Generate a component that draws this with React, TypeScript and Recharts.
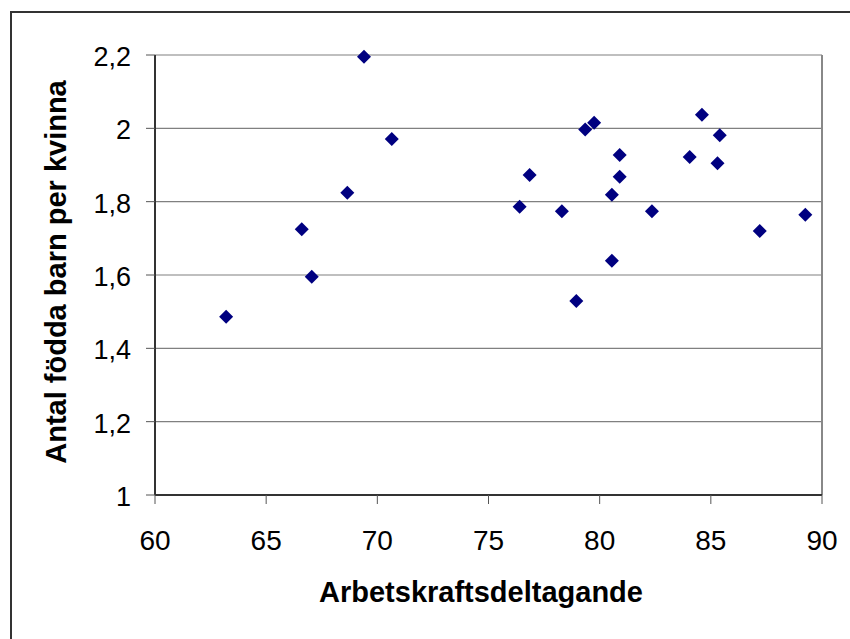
import React from 'react';
import { ScatterChart, Scatter, XAxis, YAxis, CartesianGrid, ReferenceLine } from 'recharts';

// labour force participation (x) and births per woman (y), one entry per country
const participation = [
  69.4, 70.65, 68.65, 66.6, 67.05, 63.2, 79.35, 79.75, 76.85, 76.4, 78.3, 80.9,
  80.9, 80.55, 82.35, 80.55, 78.95, 84.6, 85.4, 84.05, 85.3, 87.2, 89.25,
];
const fertility = [
  2.195, 1.971, 1.824, 1.725, 1.595, 1.486, 1.997, 2.015, 1.873, 1.786, 1.774, 1.927,
  1.868, 1.819, 1.774, 1.639, 1.529, 2.037, 1.981, 1.922, 1.905, 1.72, 1.764,
];
const xTicks = [60, 65, 70, 75, 80, 85, 90];
const yTicks = [1, 1.2, 1.4, 1.6, 1.8, 2, 2.2];

const xTitle = 'Arbetskraftsdeltagande';
const yTitle = 'Antal födda barn per kvinna';

const data = participation.map((x, i) => ({ x, y: fertility[i] }));

const FONT = '"Liberation Sans", Arial, sans-serif';

const Diamond = (props: any) => {
  const { cx, cy } = props;
  const r = 7;
  return (
    <polygon
      points={`${cx - r},${cy} ${cx},${cy - r} ${cx + r},${cy} ${cx},${cy + r}`}
      fill="#000080"
    />
  );
};

const XTick = (props: any) => {
  const { x, y, payload } = props;
  return (
    <text x={x} y={y + 46} textAnchor="middle" fontSize={28} fontFamily={FONT} fill="#000">
      {payload.value}
    </text>
  );
};

const YTick = (props: any) => {
  const { x, y, payload } = props;
  return (
    <text x={x - 15} y={y + 11} textAnchor="end" fontSize={27} fontFamily={FONT} fill="#000">
      {String(payload.value).replace('.', ',')}
    </text>
  );
};

export default function App() {
  return (
    <div style={{ position: 'absolute', left: 0, top: 0, width: 850, height: 639, overflow: 'hidden', background: '#fff' }}>
      <div
        style={{
          position: 'absolute',
          left: 10,
          top: 11,
          width: 900,
          height: 700,
          border: '2px solid #333',
          boxSizing: 'border-box',
        }}
      />
      <div style={{ position: 'absolute', left: 0, top: 0 }}>
        <ScatterChart width={850} height={639} margin={{ top: 55, right: 28, bottom: 0, left: 0 }}>
          <CartesianGrid vertical={false} stroke="#808080" strokeWidth={1.2} />
          <XAxis
            type="number"
            dataKey="x"
            domain={[60, 90]}
            ticks={xTicks}
            height={144}
            tickSize={9}
            tickMargin={0}
            axisLine={{ stroke: '#333', strokeWidth: 2 }}
            tickLine={{ stroke: '#555', strokeWidth: 1 }}
            tick={<XTick />}
            label={{
              content: () => (
                <text x={481} y={602} textAnchor="middle" fontSize={29} fontWeight="bold" fontFamily={FONT} fill="#000">
                  {xTitle}
                </text>
              ),
            }}
          />
          <YAxis
            type="number"
            dataKey="y"
            domain={[1, 2.2]}
            ticks={yTicks}
            width={155}
            tickSize={9}
            tickMargin={0}
            axisLine={{ stroke: '#333', strokeWidth: 2 }}
            tickLine={{ stroke: '#555', strokeWidth: 1 }}
            tick={<YTick />}
            label={{
              content: () => (
                <text
                  x={56}
                  y={272}
                  transform="rotate(-90, 56, 272)"
                  dy="0.355em"
                  textAnchor="middle"
                  fontSize={29}
                  fontWeight="bold"
                  fontFamily={FONT}
                  fill="#000"
                >
                  {yTitle}
                </text>
              ),
            }}
          />
          <ReferenceLine x={90} stroke="#888" strokeWidth={2} />
          <Scatter data={data} shape={<Diamond />} isAnimationActive={false} />
        </ScatterChart>
      </div>
    </div>
  );
}
